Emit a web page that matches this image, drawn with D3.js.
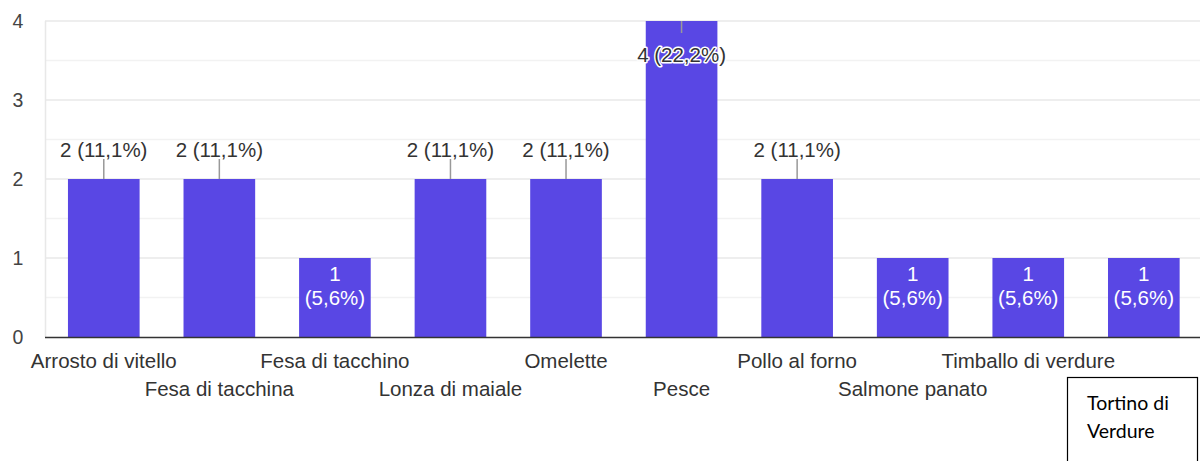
<!DOCTYPE html>
<html>
<head>
<meta charset="utf-8">
<script src="https://cdn.jsdelivr.net/npm/d3@7"></script>
<style>
  html, body { margin: 0; padding: 0; background: #fff; }
  svg { display: block; font-family: "Liberation Sans", Arial, sans-serif; }
</style>
</head>
<body>
<svg id="chart" width="1200" height="461"></svg>
<script>
// ─── Data ─────────────────────────────────────────────
const categories = ['Arrosto di vitello', 'Fesa di tacchina', 'Fesa di tacchino', 'Lonza di maiale',
  'Omelette', 'Pesce', 'Pollo al forno', 'Salmone panato', 'Timballo di verdure', 'Tortino di verdure'];
const counts = [2, 2, 1, 2, 2, 4, 2, 1, 1, 1];
const yTicks = [0, 1, 2, 3, 4];
// the last axis label is hidden under a pasted box that carries its own text
const noteLines = ['Tortino di', 'Verdure'];

const total = d3.sum(counts);
const pct = v => d3.format('.1f')(v / total * 100).replace('.', ',') + '%';

const W = 1200, H = 461;
const margin = { top: 21, left: 46, right: -1.6, bottom: 124 };
const svg = d3.select('#chart');

const x = d3.scaleBand().domain(categories)
  .range([margin.left, W - margin.right])
  .paddingInner(0.38).paddingOuter(0.19);
const y = d3.scaleLinear().domain([0, 4]).range([H - margin.bottom, margin.top]);

// Gridlines (major + half steps)
const grid = svg.append('g');
grid.selectAll('line.minor').data(d3.range(0.5, 4, 1)).join('line')
  .attr('x1', 45).attr('x2', W)
  .attr('y1', d => y(d)).attr('y2', d => y(d))
  .attr('stroke', '#f2f2f2').attr('stroke-width', 1.5);
grid.selectAll('line.major').data(yTicks.slice(1)).join('line')
  .attr('x1', 45).attr('x2', W)
  .attr('y1', d => y(d)).attr('y2', d => y(d))
  .attr('stroke', '#e8e8e8').attr('stroke-width', 1.5);
grid.append('line')
  .attr('x1', 45.5).attr('x2', 45.5).attr('y1', y(4)).attr('y2', y(0))
  .attr('stroke', '#e8e8e8').attr('stroke-width', 1.5);

// Y axis labels
svg.append('g').selectAll('text').data(yTicks).join('text')
  .attr('x', 18).attr('y', d => y(d) + 7)
  .attr('text-anchor', 'middle')
  .attr('font-size', 19.5).attr('fill', '#444')
  .text(d => d);

// Bars
const data = categories.map((c, i) => ({ c, v: counts[i] }));
svg.append('g').selectAll('rect').data(data).join('rect')
  .attr('x', d => x(d.c))
  .attr('y', d => y(d.v))
  .attr('width', x.bandwidth())
  .attr('height', d => y(0) - y(d.v))
  .attr('fill', '#5947e4');

// Baseline
svg.append('line')
  .attr('x1', 45).attr('x2', W).attr('y1', y(0) + 0.5).attr('y2', y(0) + 0.5)
  .attr('stroke', '#333').attr('stroke-width', 1.5);

// Value labels
const lab = svg.append('g').attr('font-size', 20.5);
data.forEach(d => {
  const cx = x(d.c) + x.bandwidth() / 2;
  if (d.v === 1) {
    // white, two lines inside the bar
    lab.append('text').attr('x', cx).attr('y', y(d.v) + 23)
      .attr('text-anchor', 'middle').attr('fill', '#fff').text(d.v);
    lab.append('text').attr('x', cx).attr('y', y(d.v) + 47)
      .attr('text-anchor', 'middle').attr('fill', '#fff').text('(' + pct(d.v) + ')');
  } else if (d.v < 4) {
    // above the bar with a leader line
    lab.append('line').attr('x1', cx).attr('x2', cx)
      .attr('y1', y(d.v)).attr('y2', y(d.v) - 20)
      .attr('stroke', '#999').attr('stroke-width', 1.5);
    lab.append('text').attr('x', cx).attr('y', y(d.v) - 22)
      .attr('text-anchor', 'middle').attr('fill', '#333')
      .text(d.v + ' (' + pct(d.v) + ')');
  } else {
    // no room above: inside the bar, dark text with a white halo
    lab.append('line').attr('x1', cx).attr('x2', cx)
      .attr('y1', y(d.v)).attr('y2', y(d.v) + 12)
      .attr('stroke', '#999').attr('stroke-width', 1.5);
    lab.append('text').attr('x', cx).attr('y', y(d.v) + 41)
      .attr('text-anchor', 'middle').attr('fill', '#333')
      .attr('stroke', '#fff').attr('stroke-width', 3).attr('paint-order', 'stroke')
      .attr('stroke-linejoin', 'round')
      .text(d.v + ' (' + pct(d.v) + ')');
  }
});

// Category labels, staggered on two rows (last one is covered by the note box)
svg.append('g').selectAll('text').data(categories.slice(0, -1)).join('text')
  .attr('x', d => x(d) + x.bandwidth() / 2)
  .attr('y', (d, i) => i % 2 === 0 ? 368 : 396)
  .attr('text-anchor', 'middle')
  .attr('font-size', 20.5).attr('fill', '#333')
  .text(d => d);

// Pasted-over note box
const note = svg.append('g');
note.append('rect')
  .attr('x', 1067.5).attr('y', 377.5).attr('width', 130).attr('height', 90)
  .attr('fill', '#fff').attr('stroke', '#000').attr('stroke-width', 1.2);
note.selectAll('text').data(noteLines).join('text')
  .attr('x', 1087).attr('y', (d, i) => 410 + i * 28)
  .attr('font-family', 'Lato, "Open Sans", sans-serif')
  .attr('font-size', 19.5).attr('fill', '#000')
  .text(d => d);
</script>
</body>
</html>
